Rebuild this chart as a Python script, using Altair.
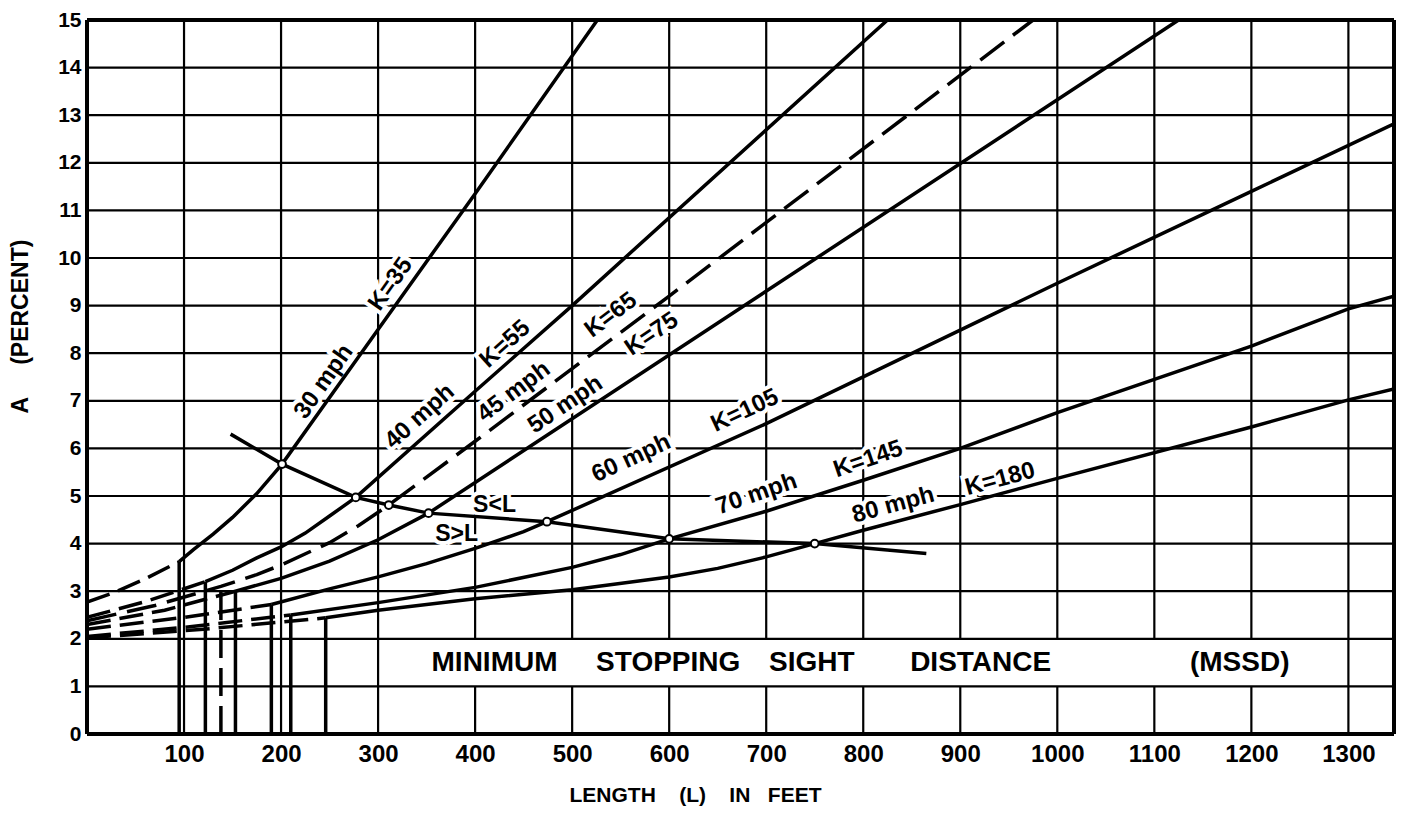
import altair as alt
import pandas as pd

# ---------------- data (feet, percent) ----------------
X_MAX = 1347
Y_MAX = 15
X_TICKS = [100, 200, 300, 400, 500, 600, 700, 800, 900, 1000, 1100, 1200, 1300]
Y_TICKS = list(range(0, 16))
H_GRID = list(range(1, 15))
BAND_FROM, BAND_TO = 400, 1200     # grid lines interrupted by the MSSD caption
BAND_LO, BAND_HI = 1, 2

# solid curves: S>L part up to the S=L point, then the straight S<L part
C30_L = [95, 110, 130, 150, 175, 201, 300, 400, 526]
C30_A = [3.62, 3.88, 4.2, 4.55, 5.05, 5.67, 8.5, 11.35, 15.0]
C40_L = [122, 150, 175, 200, 225, 250, 277, 400, 500, 825]
C40_A = [3.2, 3.44, 3.7, 3.93, 4.22, 4.58, 4.97, 7.2, 9.0, 15.0]
C50_L = [153, 200, 250, 300, 352, 1125]
C50_A = [3.0, 3.27, 3.63, 4.08, 4.64, 15.0]
C60_L = [190, 250, 300, 350, 400, 450, 474, 700, 1000, 1200, 1347]
C60_A = [2.72, 3.05, 3.3, 3.58, 3.9, 4.25, 4.46, 6.52, 9.47, 11.4, 12.82]
C70_L = [210, 300, 400, 500, 550, 600, 700, 800, 900, 1000, 1200, 1300, 1347]
C70_A = [2.5, 2.76, 3.08, 3.5, 3.77, 4.1, 4.68, 5.33, 6.0, 6.75, 8.15, 8.93, 9.2]
C80_L = [246, 300, 400, 500, 600, 650, 700, 750, 800, 900, 1000, 1200, 1300, 1347]
C80_A = [2.44, 2.6, 2.84, 3.03, 3.3, 3.48, 3.72, 4.0, 4.28, 4.82, 5.37, 6.45, 7.02, 7.25]
# 45 mph is drawn dashed over its whole length
C45_L = [0, 70, 138, 175, 200, 250, 280, 311, 400, 600, 975]
C45_A = [2.38, 2.7, 3.1, 3.35, 3.55, 4.02, 4.38, 4.81, 6.15, 9.2, 15.0]

# dashed extensions below the minimum lengths
D30_L = [0, 30, 60, 95]
D30_A = [2.77, 2.99, 3.26, 3.62]
D40_L = [0, 60, 122]
D40_A = [2.45, 2.78, 3.2]
D50_L = [0, 80, 153]
D50_A = [2.3, 2.6, 3.0]
D60_L = [0, 100, 190]
D60_A = [2.2, 2.45, 2.72]
D70_L = [0, 100, 210]
D70_A = [2.05, 2.24, 2.5]
D80_L = [0, 120, 246]
D80_A = [2.02, 2.2, 2.44]

# minimum length verticals
MIN_L = [95, 122, 153, 190, 210, 246]
MIN_TOP = [3.62, 3.2, 3.0, 2.72, 2.5, 2.44]
MIN45_L = [138]
MIN45_TOP = [3.1]

# S = L points and boundary line
SL_L = [201, 277, 311, 352, 474, 600, 750]
SL_A = [5.67, 4.97, 4.81, 4.64, 4.46, 4.1, 4.0]
BND_L = [148, 201, 277, 311, 352, 474, 580, 600, 750, 865]
BND_A = [6.3, 5.67, 4.97, 4.81, 4.64, 4.46, 4.16, 4.1, 4.0, 3.79]

# curve labels
LAB_TEXT = ["30 mph", "K=35", "40 mph", "K=55", "45 mph", "K=65", "50 mph", "K=75",
            "60 mph", "K=105", "70 mph", "K=145", "80 mph", "K=180"]
LAB_L = [244, 313, 343, 431, 440, 540, 493, 582, 561, 678, 690, 805, 831, 941]
LAB_A = [7.4, 9.45, 6.67, 8.19, 7.19, 8.8, 6.92, 8.4, 5.79, 6.79, 5.04, 5.77, 4.81, 5.35]
LAB_ANG = [305, 305, 318, 318, 323, 323, 326, 326, 335, 335, 341, 341, 345, 345]

SIDE_TEXT = ["S<L", "S>L"]
SIDE_L = [420, 381]
SIDE_A = [4.81, 4.21]

CAP_TEXT = ["MINIMUM", "STOPPING", "SIGHT", "DISTANCE", "(MSSD)"]
CAP_L = [420, 599, 747, 921, 1188]
CAP_A = [1.5, 1.5, 1.5, 1.5, 1.5]

FONT = "Liberation Sans"
NB = "\u00a0"

# ---------------- tables ----------------
vg = []
for L in X_TICKS:
    if BAND_FROM <= L <= BAND_TO:
        vg.append({"L": L, "a0": 0, "a1": BAND_LO})
        vg.append({"L": L, "a0": BAND_HI, "a1": Y_MAX})
    else:
        vg.append({"L": L, "a0": 0, "a1": Y_MAX})
vgrid_df = pd.DataFrame(vg)
hgrid_df = pd.DataFrame({"A": H_GRID, "l0": 0, "l1": X_MAX})
border_v = pd.DataFrame({"L": [0, X_MAX], "a0": 0, "a1": Y_MAX})
border_h = pd.DataFrame({"A": [0, Y_MAX], "l0": 0, "l1": X_MAX})


def mk(name, Ls, As):
    return pd.DataFrame({"series": name, "L": Ls, "A": As, "o": range(len(Ls))})


solid_df = pd.concat([mk("30", C30_L, C30_A), mk("40", C40_L, C40_A), mk("50", C50_L, C50_A),
                      mk("60", C60_L, C60_A), mk("70", C70_L, C70_A), mk("80", C80_L, C80_A),
                      mk("bnd", BND_L, BND_A)])
dash45_df = mk("45", C45_L, C45_A)
ext_df = pd.concat([mk("d30", D30_L, D30_A), mk("d40", D40_L, D40_A), mk("d50", D50_L, D50_A),
                    mk("d60", D60_L, D60_A), mk("d70", D70_L, D70_A), mk("d80", D80_L, D80_A)])
minv_df = pd.DataFrame({"L": MIN_L, "a0": 0, "a1": MIN_TOP})
min45_df = pd.DataFrame({"L": MIN45_L, "a0": 0, "a1": MIN45_TOP})
sl_df = pd.DataFrame({"L": SL_L, "A": SL_A})
lab_df = pd.DataFrame({"t": LAB_TEXT, "L": LAB_L, "A": LAB_A, "ang": LAB_ANG})
side_df = pd.DataFrame({"t": SIDE_TEXT, "L": SIDE_L, "A": SIDE_A})
cap_df = pd.DataFrame({"t": CAP_TEXT, "L": CAP_L, "A": CAP_A})

xs = alt.Scale(domain=[0, X_MAX], nice=False, zero=False)
ys = alt.Scale(domain=[0, Y_MAX], nice=False, zero=False)

xaxis = alt.Axis(values=X_TICKS, format="d", ticks=False, domain=False, grid=False,
                 labelFont=FONT, labelFontWeight="bold", labelFontSize=24, labelColor="black",
                 labelPadding=8, titleFont=FONT, titleFontWeight="bold",
                 titleFontSize=21, titleColor="black", titleX=608, titleY=61,
                 titleBaseline="middle", labelFlush=False)
yaxis = alt.Axis(values=Y_TICKS, format="d", ticks=False, domain=False, grid=False,
                 labelFont=FONT, labelFontWeight="bold", labelFontSize=21, labelColor="black",
                 labelPadding=6, titleFont=FONT, titleFontWeight="bold",
                 titleFontSize=23, titleColor="black", titleX=-67, titleY=306,
                 titleAngle=270, titleBaseline="middle", labelFlush=False)
X_TITLE = "LENGTH" + NB * 4 + "(L)" + NB * 4 + "IN" + NB * 3 + "FEET"
Y_TITLE = "A" + NB * 5 + "(PERCENT)"


def X(f):
    return alt.X(f, type="quantitative", scale=xs, axis=xaxis, title=X_TITLE)


def Y(f):
    return alt.Y(f, type="quantitative", scale=ys, axis=yaxis, title=Y_TITLE)


vgrid = alt.Chart(vgrid_df).mark_rule(color="black", strokeWidth=2.2).encode(
    x=X("L"), y=Y("a0"), y2="a1:Q")
hgrid = alt.Chart(hgrid_df).mark_rule(color="black", strokeWidth=2.2).encode(
    y=Y("A"), x=X("l0"), x2="l1:Q")

text_common = dict(font=FONT, fontWeight="bold", align="center", baseline="middle")
lab_halo = alt.Chart(lab_df).mark_text(fontSize=24, stroke="white", strokeWidth=8,
                                        fill="white", **text_common).encode(
    x=X("L"), y=Y("A"), text="t:N", angle=alt.Angle("ang:Q", scale=None))
side_halo = alt.Chart(side_df).mark_text(fontSize=23, stroke="white", strokeWidth=8,
                                          fill="white", **text_common).encode(
    x=X("L"), y=Y("A"), text="t:N")

minv = alt.Chart(minv_df).mark_rule(color="black", strokeWidth=3.5).encode(
    x=X("L"), y=Y("a0"), y2="a1:Q")
min45 = alt.Chart(min45_df).mark_rule(color="black", strokeWidth=3.5,
                                       strokeDash=[28, 10]).encode(
    x=X("L"), y=Y("a0"), y2="a1:Q")

solid = alt.Chart(solid_df).mark_line(color="black", strokeWidth=3.5, clip=True).encode(
    x=X("L"), y=Y("A"), detail="series:N", order="o:Q")
dash45 = alt.Chart(dash45_df).mark_line(color="black", strokeWidth=3.5, clip=True,
                                        strokeDash=[30, 11]).encode(
    x=X("L"), y=Y("A"), order="o:Q")
ext = alt.Chart(ext_df).mark_line(color="black", strokeWidth=3.5, clip=True,
                                  strokeDash=[24, 9]).encode(
    x=X("L"), y=Y("A"), detail="series:N", order="o:Q")

border_a = alt.Chart(border_v).mark_rule(color="black", strokeWidth=4).encode(
    x=X("L"), y=Y("a0"), y2="a1:Q")
border_b = alt.Chart(border_h).mark_rule(color="black", strokeWidth=4).encode(
    y=Y("A"), x=X("l0"), x2="l1:Q")

pts = alt.Chart(sl_df).mark_point(shape="circle", filled=True, fill="white", stroke="black",
                                  strokeWidth=2, size=60, opacity=1).encode(x=X("L"), y=Y("A"))

labels = alt.Chart(lab_df).mark_text(fontSize=24, color="black", **text_common).encode(
    x=X("L"), y=Y("A"), text="t:N", angle=alt.Angle("ang:Q", scale=None))
side = alt.Chart(side_df).mark_text(fontSize=23, color="black", **text_common).encode(
    x=X("L"), y=Y("A"), text="t:N")
cap = alt.Chart(cap_df).mark_text(fontSize=28, color="black", **text_common).encode(
    x=X("L"), y=Y("A"), text="t:N")

chart = alt.layer(vgrid, hgrid, lab_halo, side_halo, minv, min45, ext, solid, dash45,
                  border_a, border_b, pts, labels, side, cap).properties(
    width=1307, height=714,
    autosize=alt.AutoSizeParams(type="none"),
    padding={"left": 79, "top": 12, "right": 2, "bottom": 74},
    background="white",
).configure_view(stroke=None)

chart.save("out.html", embed_options={"renderer": "svg", "actions": False})
